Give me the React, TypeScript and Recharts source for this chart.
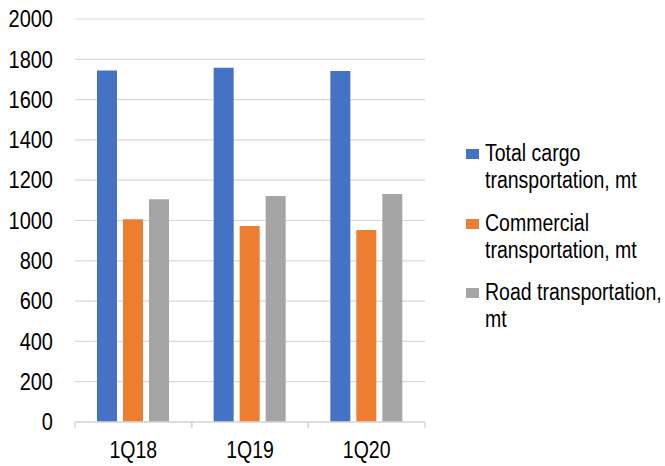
import React from 'react';
import { BarChart, Bar, XAxis, YAxis, CartesianGrid } from 'recharts';

const quarters = ['1Q18', '1Q19', '1Q20'];
const totalCargo = [1745, 1758, 1742];
const commercial = [1006, 973, 953];
const road = [1105, 1122, 1132];
const yTicks = [0, 200, 400, 600, 800, 1000, 1200, 1400, 1600, 1800, 2000];

const series = [
  { key: 'total', name: 'Total cargo transportation, mt', color: '#4472C4' },
  { key: 'commercial', name: 'Commercial transportation, mt', color: '#ED7D31' },
  { key: 'road', name: 'Road transportation, mt', color: '#A5A5A5' },
];

const data = quarters.map((quarter, i) => ({
  quarter,
  total: totalCargo[i],
  commercial: commercial[i],
  road: road[i],
}));

const FONT = '"Liberation Sans", Arial, sans-serif';
const STRETCH = 1.18;
const AXIS_COLOR = '#d9d9d9';

const YTick = (props: any) => {
  const { x, y, payload } = props;
  return (
    <g transform={`translate(${x},${y}) scale(1,${STRETCH})`}>
      <text x={0} y={0} dy="0.35em" textAnchor="end" fontFamily={FONT} fontSize={20} fill="#000">
        {payload.value}
      </text>
    </g>
  );
};

// category labels plus the short boundary ticks under the axis line
const XTick = (props: any) => {
  const { x, y, payload } = props;
  const half = payload.offset ?? 350 / 6;
  return (
    <g>
      <line x1={x - half} x2={x - half} y1={y} y2={y + 6} stroke={AXIS_COLOR} strokeWidth={1.5} />
      <line x1={x + half} x2={x + half} y1={y} y2={y + 6} stroke={AXIS_COLOR} strokeWidth={1.5} />
      <g transform={`translate(${x},${y + 28}) scale(1,${STRETCH})`}>
        <text x={0} y={0} dy="0.35em" textAnchor="middle" fontFamily={FONT} fontSize={19.5} fill="#000">
          {payload.value}
        </text>
      </g>
    </g>
  );
};

const SeriesLegend = () => (
  <div
    style={{
      position: 'absolute',
      left: 466,
      top: 140,
      width: 199,
      fontFamily: FONT,
      fontSize: 19.5,
      color: '#000',
    }}
  >
    {series.map((s) => (
      <div key={s.key} style={{ display: 'flex', alignItems: 'flex-start', marginBottom: 23.5 }}>
        <span
          style={{
            width: 13,
            height: 10,
            background: s.color,
            marginTop: 9,
            marginRight: 6,
            flex: 'none',
          }}
        />
        <div
          style={{
            width: 180,
            lineHeight: '23px',
            transform: `scaleY(${STRETCH})`,
            transformOrigin: 'top left',
          }}
        >
          {s.name}
        </div>
      </div>
    ))}
  </div>
);

export default function App() {
  return (
    <div
      style={{
        position: 'absolute',
        left: 0,
        top: 0,
        width: 665,
        height: 466,
        background: '#fff',
        overflow: 'hidden',
      }}
    >
      <BarChart
        width={665}
        height={466}
        data={data}
        margin={{ top: 19, right: 240, left: 0, bottom: 0 }}
        barSize={20}
        barGap={6}
      >
        <CartesianGrid vertical={false} stroke={AXIS_COLOR} strokeWidth={1.2} />
        <XAxis
          dataKey="quarter"
          height={44}
          tickSize={0}
          tickMargin={0}
          tickLine={false}
          axisLine={{ stroke: AXIS_COLOR, strokeWidth: 1.5 }}
          tick={<XTick />}
          interval={0}
        />
        <YAxis
          width={75}
          domain={[0, 2000]}
          ticks={yTicks}
          tickSize={0}
          tickMargin={22}
          axisLine={false}
          tickLine={false}
          tick={<YTick />}
          interval={0}
        />
        {series.map((s) => (
          <Bar key={s.key} dataKey={s.key} name={s.name} fill={s.color} isAnimationActive={false} />
        ))}
      </BarChart>
      <SeriesLegend />
    </div>
  );
}
